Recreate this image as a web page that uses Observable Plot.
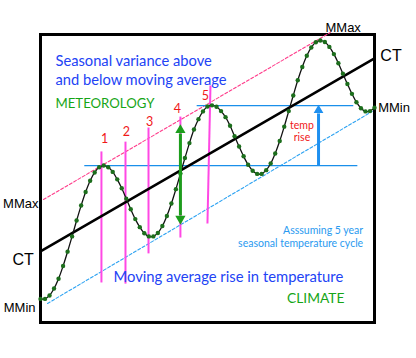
<!DOCTYPE html>
<html>
<head>
<meta charset="utf-8">
<script src="https://cdn.jsdelivr.net/npm/d3@7"></script>
<script src="https://cdn.jsdelivr.net/npm/@observablehq/plot@0.6"></script>
<style>
  html, body { margin: 0; padding: 0; background: #fff; }
  #chart svg { display: block; }
</style>
</head>
<body>
<div id="chart"></div>
<script>
// Seasonal temperature samples (one per sample step, x = sample index)
const seasonal = [8.2, 8.2, 9.4, 11.8, 15.2, 19.6, 24.6, 29.9, 35.4, 40.6, 45.3, 49.2, 52.1, 53.9, 54.5, 53.9, 52.3, 49.7, 46.6, 43.0, 39.3, 35.9, 33.1, 31.0, 29.9, 29.9, 31.1, 33.5, 37.0, 41.3, 46.3, 51.7, 57.1, 62.3, 67.0, 70.6, 73.3, 75.0, 75.4, 74.9, 73.4, 71.3, 68.3, 64.7, 61.1, 57.7, 54.8, 52.7, 51.6, 51.6, 52.9, 55.2, 58.7, 63.0, 68.0, 73.4, 78.8, 84.1, 88.7, 92.6, 95.5, 97.3, 97.9, 97.4, 95.7, 93.2, 90.0, 86.4, 82.8, 79.4, 76.5, 74.4, 73.3, 73.4, 74.6];

// Trend lines (endpoints)
const ctX = [0, 74], ctY = [24.7, 91.7];
const mmaxX = [0.66, 64.2], mmaxY = [42.7, 100.7];
const mminX = [1.55, 73.5], mminY = [6.6, 73.3];

// Magenta season markers
const markerLabels = ["1", "2", "3", "4", "5"];
const markerX1 = [13.5, 18.83, 23.93, 31.0, 36.99];
const markerX2 = [13.5, 18.83, 23.93, 31.0, 37.66];
const markerTop = [59.4, 62.8, 67.7, 71.5, 82.3];
const markerBottom = [13.9, 13.5, 24.0, 29.5, 34.4];
const markerLabelX = [14.2, 19.05, 24.15, 30.35, 36.55];
const markerLabelY = [62.2, 64.9, 68.1, 72.6, 77.4];

// Blue horizontal reference lines
const hlineX1 = [34.6, 9.7], hlineX2 = [69.3, 70.2], hlineY = [75.3, 54.5];

// Arrows
const greenArrowX = 31.0, greenArrowY1 = 37.2, greenArrowY2 = 65.6;
const greenHeadY = [66.8, 36.0], greenHeadRot = [0, 180];
const blueArrowX = 61.6, blueArrowY1 = 54.5, blueArrowY2 = 72.6, blueHeadY = 73.7;

// Annotation texts
const notes = [
  {t: "Seasonal variance above", x: 3.32, y: 89.2, c: "#2243f5", s: 14.7, a: "start"},
  {t: "and below moving average", x: 3.32, y: 82.3, c: "#2243f5", s: 14.7, a: "start"},
  {t: "METEOROLOGY", x: 3.32, y: 74.65, c: "#16a516", s: 13.2, a: "start"},
  {t: "Moving average rise in temperature", x: 16.17, y: 14.0, c: "#2243f5", s: 14.8, a: "start"},
  {t: "CLIMATE", x: 67.35, y: 6.7, c: "#16a516", s: 13.8, a: "end"},
  {t: "Asssuming 5 year", x: 71.49, y: 30.56, c: "#2a9af0", s: 10.5, a: "end"},
  {t: "seasonal temperature cycle", x: 71.49, y: 26.15, c: "#2a9af0", s: 10.5, a: "end"},
  {t: "temp", x: 57.93, y: 67.36, c: "#f01818", s: 10.5, a: "middle"},
  {t: "rise", x: 57.93, y: 62.85, c: "#f01818", s: 10.5, a: "middle"}
];
const sideLabels = [
  {t: "MMax", x: 63.14, y: 100.8, s: 13, a: "start"},
  {t: "CT", x: 75.3, y: 90.97, s: 16, a: "start"},
  {t: "MMin", x: 74.81, y: 73.0, s: 13, a: "start"},
  {t: "MMax", x: -0.44, y: 39.7, s: 13, a: "end"},
  {t: "CT", x: -1.48, y: 20.1, s: 16, a: "end"},
  {t: "MMin", x: -1.1, y: 3.58, s: 13, a: "end"}
];

const pts = (xs, ys) => xs.map((x, i) => ({x, y: ys[i]}));
const series = seasonal.map((v, i) => ({i, v}));
const markers = markerLabels.map((l, k) => ({l, x1: markerX1[k], x2: markerX2[k], y1: markerBottom[k], y2: markerTop[k], lx: markerLabelX[k], ly: markerLabelY[k]}));
const hlines = hlineY.map((y, k) => ({x1: hlineX1[k], x2: hlineX2[k], y}));

const marks = [
  Plot.frame({stroke: "#000", strokeWidth: 3}),
  Plot.line(pts(mmaxX, mmaxY), {x: "x", y: "y", stroke: "#ff3d8b", strokeWidth: 1.1, strokeDasharray: "3,2"}),
  Plot.line(pts(mminX, mminY), {x: "x", y: "y", stroke: "#2ea3f2", strokeWidth: 1.1, strokeDasharray: "3,2"}),
  Plot.link(hlines, {x1: "x1", x2: "x2", y1: "y", y2: "y", stroke: "#1a8fea", strokeWidth: 1.3}),
  Plot.link(markers, {x1: "x1", x2: "x2", y1: "y1", y2: "y2", stroke: "#ff48e4", strokeWidth: 2}),
  Plot.line(pts(ctX, ctY), {x: "x", y: "y", stroke: "#000", strokeWidth: 2.5}),
  Plot.line(series, {x: "i", y: "v", curve: "catmull-rom", stroke: "#111", strokeWidth: 1.3}),
  Plot.dot(series, {x: "i", y: "v", r: 2.2, fill: "#1c6e1c", stroke: "none"}),
  Plot.link([0], {x1: greenArrowX, x2: greenArrowX, y1: greenArrowY1, y2: greenArrowY2, stroke: "#1c9e1c", strokeWidth: 3}),
  Plot.dot(greenHeadY.map((y, k) => ({y, r: greenHeadRot[k]})), {x: greenArrowX, y: "y", symbol: "triangle", rotate: "r", r: 3.8, fill: "#1c9e1c", stroke: "none"}),
  Plot.link([0], {x1: blueArrowX, x2: blueArrowX, y1: blueArrowY1, y2: blueArrowY2, stroke: "#1e90f0", strokeWidth: 3}),
  Plot.dot([blueHeadY], {x: blueArrowX, y: d => d, symbol: "triangle", r: 3.6, fill: "#1e90f0", stroke: "none"}),
  Plot.text(markers, {x: "lx", y: "ly", text: "l", fill: "#f01818", fontSize: 12.5, lineAnchor: "bottom", fontFamily: "Lato"}),
  ...notes.map(n => Plot.text([n], {x: "x", y: "y", text: "t", fill: n.c, fontSize: n.s, textAnchor: n.a, lineAnchor: "bottom", fontFamily: "Lato"})),
  ...sideLabels.map(n => Plot.text([n], {x: "x", y: "y", text: "t", fill: "#000", fontSize: n.s, textAnchor: n.a, lineAnchor: "bottom", fontFamily: "Liberation Sans"}))
];

const chart = Plot.plot({
  width: 416,
  height: 358,
  marginLeft: 40,
  marginRight: 42,
  marginTop: 34,
  marginBottom: 36,
  x: {domain: [0, 74], axis: null},
  y: {domain: [0, 100], axis: null},
  marks
});
document.getElementById("chart").appendChild(chart);
</script>
</body>
</html>
